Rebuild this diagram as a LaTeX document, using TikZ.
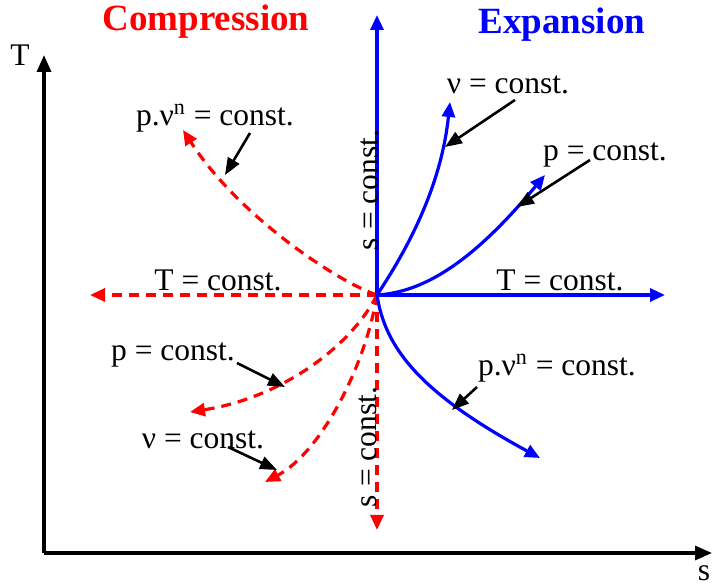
\documentclass[tikz,border=0pt]{standalone}
\usepackage{fontspec}
\setmainfont{Liberation Serif}
\usetikzlibrary{arrows.meta}
\definecolor{comprd}{HTML}{FF0000}
\definecolor{expbl}{HTML}{0000FF}

\tikzset{
  lbl/.style={font=\fontsize{15.75}{18}\selectfont, inner sep=0pt},
  ttl/.style={font=\fontsize{18.5}{22}\selectfont\bfseries, inner sep=0pt},
  expn/.style={expbl, line width=1.6pt, -{Triangle[length=7.5pt,width=6.5pt]}},
  comp/.style={comprd, line width=1.6pt, dash pattern=on 5pt off 3.5pt, -{Triangle[length=7.5pt,width=6.5pt]}},
  pointer/.style={black, line width=1.3pt, -{Triangle[length=8.5pt,width=6.5pt]}},
}

\begin{document}
\begin{tikzpicture}[x=5pt, y=5pt]
\useasboundingbox (0,0) rectangle (71.3,58.8);

% Axes
\coordinate (A) at (4.4,3.5);
\coordinate (Atop) at (4.4,53.3);
\coordinate (Aright) at (71.2,3.5);
\draw[line width=1.6pt, -{Triangle[length=8.5pt,width=7pt]}] (A) -- (Atop);
\draw[line width=1.6pt, -{Triangle[length=8.5pt,width=7pt]}] (A) -- (Aright);
\node[lbl] (Tax) at (2.0,53.3) {T};
\node[lbl] (sax) at (70.4,1.5) {s};

% Titles
\node[ttl, comprd] (comp) at (20.6,56.6) {Compression};
\node[ttl, expbl] (expn) at (56.2,56.3) {Expansion};

% State point
\coordinate (O) at (37.7,29.3);

% Compression (red, dashed)
\coordinate (sC) at (37.7,5.8);
\coordinate (TC) at (9.0,29.3);
\coordinate (pvnC) at (18.3,45.8);
\coordinate (pC) at (19.0,17.6);
\coordinate (vC) at (26.5,10.6);
\draw[comp] (O) -- (sC);
\draw[comp] (O) -- (TC);
\draw[comp] (O) .. controls (34,30.5) and (24,37) .. (pvnC);
\draw[comp] (O) .. controls (35,24) and (28,19) .. (pC);
\draw[comp] (O) .. controls (36.5,22) and (32,13.5) .. (vC);

% Expansion (blue)
\coordinate (sE) at (37.7,57.3);
\coordinate (TE) at (66.5,29.3);
\coordinate (vE) at (45.0,48.6);
\coordinate (pE) at (54.5,41.3);
\coordinate (pvnE) at (54.0,13.0);
\draw[expn] (O) -- (sE);
\draw[expn] (O) -- (TE);
\draw[expn] (O) .. controls (41.5,35) and (44.2,41) .. (vE);
\draw[expn] (O) .. controls (43,29.6) and (48,33.5) .. (pE);
\draw[expn] (O) .. controls (38.5,24) and (42,19.5) .. (pvnE);

% Labels
\node[lbl] (lTC) at (21.8,30.8) {T = const.};
\node[lbl] (lTE) at (56.0,30.8) {T = const.};
\node[lbl, rotate=90] (lsE) at (37.0,39.8) {s = const.};
\node[lbl, rotate=90] (lsC) at (36.8,14.1) {s = const.};
\node[lbl] (lpvnC) at (21.5,47.0) {p.ν\textsuperscript{n} = const.};
\node[lbl] (lpC) at (17.3,23.3) {p = const.};
\node[lbl] (lvC) at (20.3,14.8) {ν = const.};
\node[lbl] (lvE) at (50.8,50.3) {ν = const.};
\node[lbl] (lpE) at (60.5,43.3) {p = const.};
\node[lbl] (lpvnE) at (55.7,22.0) {p.ν\textsuperscript{n} = const.};

% Pointers
\coordinate (pvnCa) at (25.0,45.5); \coordinate (pvnCb) at (22.5,41.3);
\coordinate (pCa) at (23.7,22.5);   \coordinate (pCb) at (28.5,20.1);
\coordinate (vCa) at (22.8,14.1);   \coordinate (vCb) at (27.7,11.8);
\coordinate (vEa) at (51.5,48.8);   \coordinate (vEb) at (44.5,44.1);
\coordinate (pEa) at (59.0,42.8);   \coordinate (pEb) at (51.7,38.1);
\coordinate (pvnEa) at (47.7,20.1); \coordinate (pvnEb) at (45.2,17.8);
\foreach \n in {pvnC,pC,vC,vE,pE,pvnE} {
    \draw[pointer] (\n a) -- (\n b);
}

\end{tikzpicture}
\end{document}
